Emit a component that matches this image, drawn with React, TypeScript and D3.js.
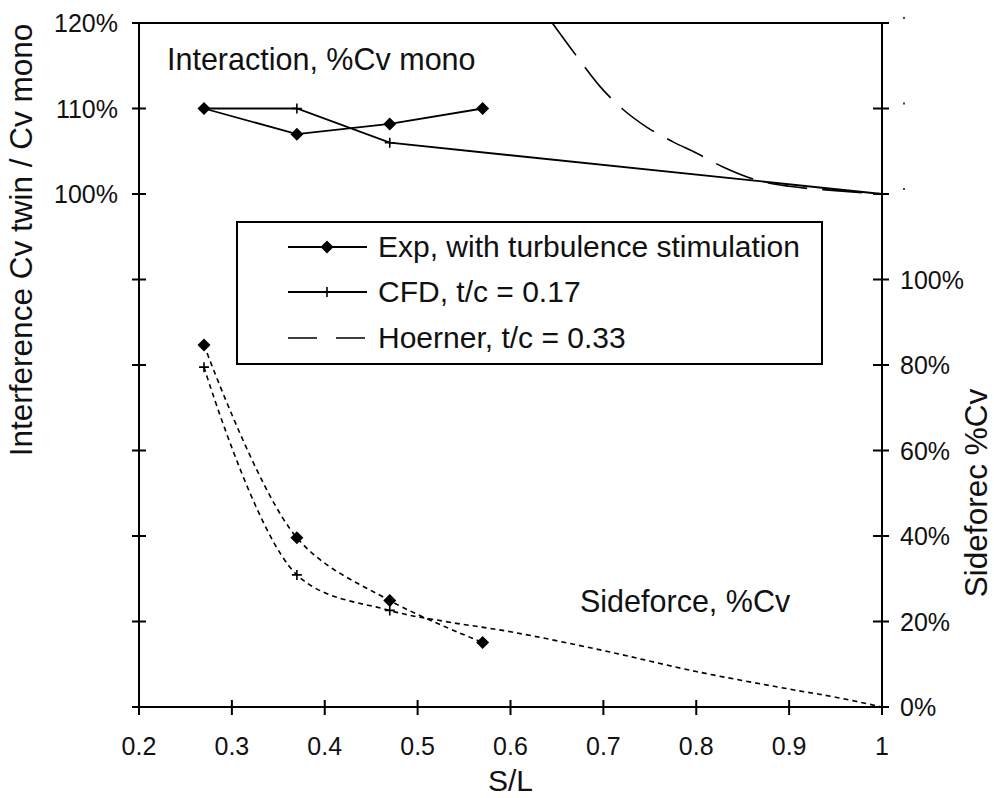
import React from "react";
import * as d3 from "d3";

// ---- data ----
const xTicks = [0.2, 0.3, 0.4, 0.5, 0.6, 0.7, 0.8, 0.9, 1.0];
const leftTicks = [120, 110, 100, 90, 80, 70, 60, 50, 40];
const leftLabelled = [120, 110, 100];
const rightTicks = [0, 20, 40, 60, 80, 100, 120, 140, 160];
const rightLabelled = [0, 20, 40, 60, 80, 100];

// Interaction (left axis, %)
const expInterX = [0.27, 0.37, 0.47, 0.57];
const expInterY = [110, 107, 108.2, 110];
const cfdInterX = [0.27, 0.37, 0.47, 1.0];
const cfdInterY = [110, 110, 106, 100];
const cfdInterMarked = 3;
const hoernerX = [0.645, 0.67, 0.697, 0.72, 0.747, 0.775, 0.8, 0.83, 0.866, 0.9, 0.95, 1.0];
const hoernerY = [120, 116.3, 112.5, 110, 107.8, 106.1, 104.8, 103.1, 101.6, 100.9, 100.4, 100];

// Sideforce (right axis, %)
const expSideX = [0.27, 0.37, 0.47, 0.57];
const expSideY = [84.7, 39.6, 24.9, 15.1];
const cfdSideX = [0.27, 0.37, 0.47, 0.53, 0.6, 0.7, 0.8, 0.9, 0.95, 1.0];
const cfdSideY = [79.5, 30.9, 22.6, 20.0, 17.6, 13.2, 8.3, 4.2, 2.3, 0];
const cfdSideMarked = 3;

const legendItems = ["Exp, with turbulence stimulation", "CFD, t/c = 0.17", "Hoerner, t/c = 0.33"];

const FONT = "'Liberation Sans', Arial, sans-serif";

export default function App() {
  const W = 994, H = 798;
  const x = d3.scaleLinear().domain([0.2, 1.0]).range([139, 882]);
  const yL = d3.scaleLinear().domain([40, 120]).range([707, 23]);
  const yR = d3.scaleLinear().domain([0, 160]).range([707, 23]);

  const lineL = d3.line<[number, number]>().x(d => x(d[0])).y(d => yL(d[1]));
  const smoothR = d3.line<[number, number]>().x(d => x(d[0])).y(d => yR(d[1])).curve(d3.curveCatmullRom.alpha(0.5));
  const smoothL = d3.line<[number, number]>().x(d => x(d[0])).y(d => yL(d[1])).curve(d3.curveMonotoneX);

  const zip = (a: number[], b: number[]) => a.map((v, i) => [v, b[i]] as [number, number]);

  const diamond = (cx: number, cy: number, r = 6.5, key?: any) => (
    <path key={key} d={`M${cx},${cy - r}L${cx + r},${cy}L${cx},${cy + r}L${cx - r},${cy}Z`} fill="#000" />
  );
  const plus = (cx: number, cy: number, r = 5, key?: any) => (
    <path key={key} d={`M${cx - r},${cy}H${cx + r}M${cx},${cy - r}V${cy + r}`} stroke="#000" strokeWidth={1.6} fill="none" />
  );

  const legendRows = [247, 292, 338];

  return (
    <svg width={W} height={H} style={{ position: "absolute", left: 0, top: 0, background: "#fff" }} fontFamily={FONT}>
      <rect x={0} y={0} width={W} height={H} fill="#fff" />
      {/* frame */}
      <rect x={x(0.2)} y={yL(120)} width={x(1) - x(0.2)} height={yL(40) - yL(120)} fill="none" stroke="#000" strokeWidth={2} />
      {/* left ticks */}
      {leftTicks.map(t => (
        <line key={"lt" + t} x1={x(0.2) - 7} x2={x(0.2) + 7} y1={yL(t)} y2={yL(t)} stroke="#000" strokeWidth={2} />
      ))}
      {leftLabelled.map(t => (
        <text key={"ll" + t} x={118} y={yL(t) + 9} fontSize={25} textAnchor="end" fill="#111">{t}%</text>
      ))}
      {/* right ticks */}
      {rightTicks.map(t => (
        <line key={"rt" + t} x1={x(1) - 9} x2={x(1) + 7} y1={yR(t)} y2={yR(t)} stroke="#000" strokeWidth={2} />
      ))}
      {rightLabelled.map(t => (
        <text key={"rl" + t} x={900} y={yR(t) + 9} fontSize={25} textAnchor="start" fill="#111">{t}%</text>
      ))}
      {rightTicks.filter(t => rightLabelled.indexOf(t) < 0).map(t => (
        <rect key={"rd" + t} x={903} y={yR(t) - 6} width={2} height={2} fill="#444" />
      ))}
      {/* bottom ticks */}
      {xTicks.map(t => (
        <g key={"xt" + t}>
          <line x1={x(t)} x2={x(t)} y1={yL(40) - 7} y2={yL(40) + 8} stroke="#000" strokeWidth={2} />
          <text x={x(t)} y={755} fontSize={25} textAnchor="middle" fill="#111">{t === 1 ? "1" : t.toFixed(1)}</text>
        </g>
      ))}
      {/* axis titles */}
      <text x={x(0.6)} y={791} fontSize={30} textAnchor="middle" fill="#111">S/L</text>
      <text transform="translate(32,240) rotate(-90)" fontSize={31.5} textAnchor="middle" fill="#111">Interference Cv twin / Cv mono</text>
      <text transform="translate(987,493) rotate(-90)" fontSize={31.5} textAnchor="middle" fill="#111">Sideforec %Cv</text>

      {/* annotations */}
      <text x={167} y={70} fontSize={30.5} fill="#111">Interaction, %Cv mono</text>
      <text x={580} y={612} fontSize={30.5} fill="#111">Sideforce, %Cv</text>

      {/* interaction lines */}
      <path d={lineL(zip(expInterX, expInterY)) || ""} fill="none" stroke="#000" strokeWidth={1.8} />
      {expInterX.map((v, i) => diamond(x(v), yL(expInterY[i]), 6.5, "ed" + i))}
      <path d={lineL(zip(cfdInterX, cfdInterY)) || ""} fill="none" stroke="#000" strokeWidth={1.8} />
      {cfdInterX.slice(0, cfdInterMarked).map((v, i) => plus(x(v), yL(cfdInterY[i]), 5, "cp" + i))}
      <path d={smoothL(zip(hoernerX, hoernerY)) || ""} fill="none" stroke="#000" strokeWidth={1.6} strokeDasharray="40 15" />

      {/* sideforce lines */}
      <path d={smoothR(zip(expSideX, expSideY)) || ""} fill="none" stroke="#000" strokeWidth={1.6} strokeDasharray="5 4" />
      {expSideX.map((v, i) => diamond(x(v), yR(expSideY[i]), 6.5, "sd" + i))}
      <path d={smoothR(zip(cfdSideX, cfdSideY)) || ""} fill="none" stroke="#000" strokeWidth={1.6} strokeDasharray="5 4" />
      {cfdSideX.slice(0, cfdSideMarked).map((v, i) => plus(x(v), yR(cfdSideY[i]), 5, "sp" + i))}

      {/* legend */}
      <rect x={237} y={222} width={585} height={142} fill="#fff" stroke="#000" strokeWidth={2} />
      {legendItems.map((name, i) => {
        const ly = legendRows[i];
        return (
          <g key={"lg" + i}>
            {i === 2 ? (
              <line x1={288} x2={367} y1={ly} y2={ly} stroke="#000" strokeWidth={1.6} strokeDasharray="29 19" />
            ) : (
              <line x1={288} x2={367} y1={ly} y2={ly} stroke="#000" strokeWidth={1.8} />
            )}
            {i === 0 && diamond(327, ly, 6.5)}
            {i === 1 && plus(327, ly, 5)}
            <text x={378} y={ly + 10} fontSize={30} fill="#111">{name}</text>
          </g>
        );
      })}
    </svg>
  );
}
